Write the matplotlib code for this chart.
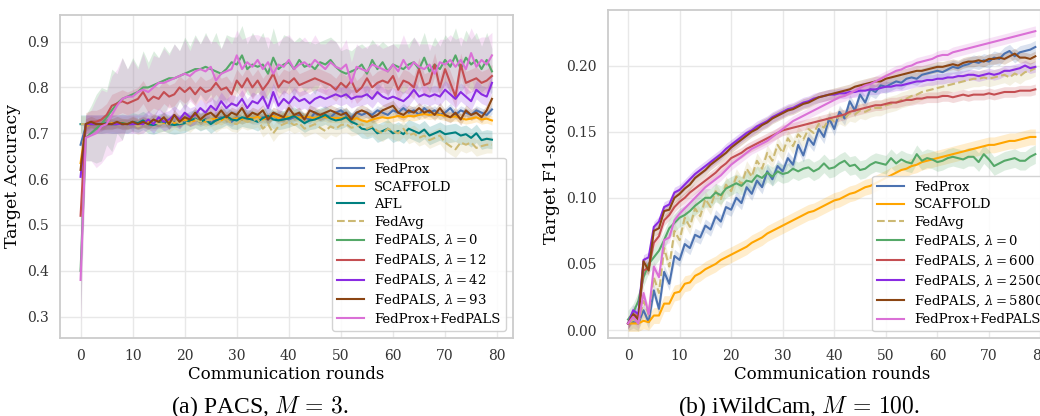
import numpy as np
import matplotlib
matplotlib.use("Agg")
import matplotlib.pyplot as plt
from matplotlib.ticker import FormatStrFormatter

plt.rcParams["font.family"] = ["DejaVu Serif"]
plt.rcParams["mathtext.fontset"] = "dejavuserif"

rounds = np.arange(80)

# ---------------- PACS (M = 3): target accuracy ----------------
pacs_fedprox = [0.675, 0.715, 0.72, 0.72, 0.715, 0.72, 0.72, 0.72, 0.72, 0.72,
                0.72, 0.72, 0.725, 0.72, 0.72, 0.72, 0.725, 0.72, 0.725, 0.72,
                0.73, 0.725, 0.73, 0.725, 0.73, 0.725, 0.73, 0.735, 0.73, 0.725,
                0.735, 0.73, 0.735, 0.73, 0.73, 0.735, 0.73, 0.74, 0.73, 0.735,
                0.73, 0.735, 0.74, 0.735, 0.73, 0.745, 0.735, 0.74, 0.735, 0.745,
                0.75, 0.74, 0.735, 0.745, 0.74, 0.745, 0.74, 0.75, 0.745, 0.74,
                0.75, 0.745, 0.755, 0.745, 0.75, 0.74, 0.755, 0.745, 0.75, 0.74,
                0.745, 0.755, 0.74, 0.75, 0.745, 0.74, 0.75, 0.745, 0.74, 0.752]
pacs_scaffold = [0.635, 0.715, 0.72, 0.72, 0.72, 0.72, 0.722, 0.72, 0.723, 0.72,
                 0.725, 0.72, 0.722, 0.725, 0.72, 0.725, 0.722, 0.728, 0.722, 0.725,
                 0.73, 0.725, 0.728, 0.73, 0.725, 0.73, 0.732, 0.728, 0.735, 0.73,
                 0.733, 0.73, 0.735, 0.732, 0.736, 0.73, 0.735, 0.738, 0.733, 0.736,
                 0.735, 0.738, 0.734, 0.736, 0.735, 0.733, 0.738, 0.735, 0.734, 0.733,
                 0.733, 0.735, 0.73, 0.733, 0.728, 0.725, 0.73, 0.733, 0.735, 0.733,
                 0.735, 0.738, 0.735, 0.738, 0.737, 0.74, 0.742, 0.74, 0.742, 0.74,
                 0.738, 0.735, 0.737, 0.733, 0.73, 0.732, 0.735, 0.73, 0.732, 0.728]
pacs_afl = [0.72, 0.72, 0.72, 0.72, 0.72, 0.722, 0.72, 0.72, 0.722, 0.72,
            0.725, 0.722, 0.728, 0.72, 0.718, 0.722, 0.725, 0.72, 0.718, 0.72,
            0.722, 0.728, 0.732, 0.725, 0.73, 0.72, 0.728, 0.732, 0.738, 0.73,
            0.728, 0.735, 0.732, 0.73, 0.725, 0.733, 0.738, 0.73, 0.728, 0.73,
            0.733, 0.738, 0.73, 0.722, 0.728, 0.73, 0.735, 0.74, 0.732, 0.728,
            0.73, 0.735, 0.725, 0.72, 0.71, 0.708, 0.712, 0.70, 0.705, 0.71,
            0.70, 0.705, 0.698, 0.71, 0.705, 0.70, 0.708, 0.695, 0.70, 0.705,
            0.698, 0.70, 0.702, 0.695, 0.698, 0.69, 0.70, 0.685, 0.688, 0.686]
pacs_fedavg = [0.72, 0.72, 0.722, 0.72, 0.718, 0.72, 0.722, 0.72, 0.718, 0.72,
               0.722, 0.715, 0.72, 0.722, 0.725, 0.72, 0.722, 0.72, 0.728, 0.722,
               0.725, 0.72, 0.73, 0.725, 0.728, 0.73, 0.72, 0.728, 0.73, 0.722,
               0.72, 0.73, 0.725, 0.728, 0.732, 0.71, 0.72, 0.70, 0.715, 0.72,
               0.725, 0.718, 0.722, 0.71, 0.715, 0.72, 0.712, 0.705, 0.715, 0.71,
               0.718, 0.72, 0.712, 0.715, 0.72, 0.71, 0.715, 0.705, 0.70, 0.71,
               0.705, 0.70, 0.71, 0.695, 0.70, 0.69, 0.695, 0.685, 0.69, 0.695,
               0.68, 0.672, 0.665, 0.68, 0.675, 0.68, 0.668, 0.672, 0.675, 0.675]
pacs_pals0 = [0.40, 0.69, 0.70, 0.71, 0.72, 0.735, 0.75, 0.765, 0.775, 0.78,
              0.785, 0.79, 0.80, 0.80, 0.805, 0.81, 0.815, 0.82, 0.82, 0.825,
              0.83, 0.835, 0.84, 0.84, 0.845, 0.84, 0.835, 0.83, 0.84, 0.855,
              0.85, 0.87, 0.84, 0.85, 0.845, 0.85, 0.83, 0.865, 0.84, 0.85,
              0.855, 0.84, 0.86, 0.845, 0.85, 0.84, 0.855, 0.85, 0.86, 0.845,
              0.835, 0.83, 0.835, 0.84, 0.85, 0.83, 0.86, 0.84, 0.855, 0.835,
              0.85, 0.845, 0.84, 0.85, 0.855, 0.84, 0.865, 0.835, 0.85, 0.84,
              0.86, 0.845, 0.87, 0.84, 0.865, 0.85, 0.86, 0.84, 0.86, 0.835]
pacs_pals12 = [0.52, 0.72, 0.725, 0.725, 0.73, 0.74, 0.76, 0.765, 0.77, 0.765,
               0.77, 0.775, 0.79, 0.77, 0.78, 0.775, 0.79, 0.78, 0.785, 0.80,
               0.79, 0.80, 0.785, 0.80, 0.79, 0.795, 0.81, 0.795, 0.80, 0.785,
               0.815, 0.80, 0.82, 0.80, 0.815, 0.795, 0.81, 0.83, 0.80, 0.815,
               0.81, 0.82, 0.805, 0.81, 0.815, 0.82, 0.815, 0.81, 0.805, 0.795,
               0.81, 0.80, 0.815, 0.79, 0.80, 0.82, 0.80, 0.81, 0.815, 0.81,
               0.825, 0.795, 0.815, 0.81, 0.80, 0.84, 0.805, 0.81, 0.85, 0.80,
               0.84, 0.81, 0.78, 0.85, 0.81, 0.815, 0.82, 0.81, 0.815, 0.825]
pacs_pals42 = [0.605, 0.72, 0.72, 0.72, 0.72, 0.72, 0.72, 0.72, 0.72, 0.72,
               0.72, 0.72, 0.72, 0.73, 0.72, 0.735, 0.725, 0.73, 0.74, 0.73,
               0.745, 0.735, 0.74, 0.755, 0.745, 0.76, 0.75, 0.77, 0.755, 0.765,
               0.76, 0.775, 0.755, 0.77, 0.765, 0.78, 0.755, 0.79, 0.76, 0.775,
               0.765, 0.78, 0.77, 0.775, 0.765, 0.775, 0.78, 0.775, 0.78, 0.785,
               0.78, 0.785, 0.775, 0.78, 0.78, 0.785, 0.775, 0.79, 0.78, 0.775,
               0.78, 0.775, 0.77, 0.78, 0.795, 0.78, 0.785, 0.78, 0.785, 0.78,
               0.795, 0.785, 0.775, 0.79, 0.78, 0.77, 0.795, 0.785, 0.78, 0.81]
pacs_pals93 = [0.62, 0.72, 0.725, 0.72, 0.72, 0.72, 0.72, 0.725, 0.72, 0.72,
               0.725, 0.72, 0.725, 0.72, 0.73, 0.725, 0.735, 0.72, 0.74, 0.725,
               0.735, 0.73, 0.745, 0.73, 0.74, 0.745, 0.735, 0.75, 0.735, 0.745,
               0.74, 0.755, 0.735, 0.745, 0.74, 0.75, 0.73, 0.745, 0.74, 0.735,
               0.755, 0.74, 0.745, 0.73, 0.75, 0.745, 0.74, 0.745, 0.75, 0.745,
               0.74, 0.745, 0.73, 0.745, 0.75, 0.745, 0.735, 0.74, 0.75, 0.755,
               0.76, 0.745, 0.74, 0.75, 0.745, 0.755, 0.745, 0.75, 0.74, 0.755,
               0.74, 0.735, 0.745, 0.73, 0.75, 0.74, 0.745, 0.735, 0.75, 0.775]
pacs_prox_pals = [0.38, 0.69, 0.695, 0.70, 0.715, 0.72, 0.74, 0.76, 0.775, 0.78,
                  0.78, 0.79, 0.795, 0.79, 0.80, 0.81, 0.81, 0.815, 0.82, 0.825,
                  0.83, 0.825, 0.835, 0.84, 0.835, 0.845, 0.815, 0.83, 0.835, 0.84,
                  0.87, 0.84, 0.855, 0.845, 0.86, 0.84, 0.855, 0.83, 0.85, 0.845,
                  0.86, 0.84, 0.85, 0.855, 0.845, 0.86, 0.85, 0.84, 0.855, 0.845,
                  0.84, 0.85, 0.81, 0.845, 0.84, 0.835, 0.85, 0.845, 0.84, 0.835,
                  0.85, 0.835, 0.86, 0.84, 0.855, 0.845, 0.84, 0.85, 0.83, 0.855,
                  0.85, 0.86, 0.845, 0.86, 0.84, 0.875, 0.845, 0.86, 0.85, 0.87]

# per-round standard deviation of the two high-variance runs
pacs_std_pals0 = [0.09, 0.05, 0.06, 0.075, 0.08, 0.06, 0.09, 0.065, 0.09, 0.06,
                  0.08, 0.055, 0.08, 0.055, 0.075, 0.055, 0.075, 0.055, 0.075, 0.055,
                  0.08, 0.055, 0.075, 0.055, 0.075, 0.055, 0.085, 0.055, 0.075, 0.055,
                  0.06, 0.065, 0.055, 0.07, 0.055, 0.07, 0.055, 0.065, 0.05, 0.065,
                  0.055, 0.06, 0.05, 0.055, 0.05, 0.055, 0.045, 0.055, 0.05, 0.055,
                  0.045, 0.055, 0.045, 0.05, 0.045, 0.055, 0.045, 0.05, 0.045, 0.055,
                  0.045, 0.05, 0.055, 0.045, 0.055, 0.05, 0.055, 0.045, 0.06, 0.05,
                  0.055, 0.055, 0.06, 0.05, 0.06, 0.055, 0.06, 0.05, 0.06, 0.05]
pacs_std_prox_pals = [0.095, 0.05, 0.055, 0.075, 0.08, 0.07, 0.085, 0.08, 0.09, 0.06,
                      0.08, 0.05, 0.08, 0.05, 0.07, 0.055, 0.075, 0.055, 0.075, 0.055,
                      0.075, 0.055, 0.075, 0.055, 0.08, 0.055, 0.085, 0.055, 0.075, 0.055,
                      0.055, 0.065, 0.055, 0.07, 0.055, 0.07, 0.055, 0.065, 0.05, 0.065,
                      0.055, 0.06, 0.05, 0.055, 0.05, 0.055, 0.045, 0.055, 0.05, 0.055,
                      0.045, 0.055, 0.045, 0.05, 0.045, 0.055, 0.045, 0.05, 0.045, 0.055,
                      0.045, 0.05, 0.055, 0.045, 0.055, 0.05, 0.055, 0.045, 0.06, 0.05,
                      0.055, 0.055, 0.06, 0.05, 0.06, 0.055, 0.06, 0.05, 0.06, 0.05]

# ---------------- iWildCam (M = 100): target F1-score ----------------
wild_fedprox = [0.005, 0.006, 0.005, 0.015, 0.006, 0.03, 0.016, 0.044, 0.035, 0.056,
                0.053, 0.065, 0.062, 0.072, 0.07, 0.079, 0.076, 0.086, 0.082, 0.093,
                0.091, 0.10, 0.096, 0.108, 0.103, 0.113, 0.108, 0.12, 0.114, 0.124,
                0.12, 0.13, 0.125, 0.14, 0.132, 0.145, 0.14, 0.152, 0.146, 0.16,
                0.152, 0.165, 0.16, 0.173, 0.166, 0.178, 0.172, 0.182, 0.18, 0.185,
                0.184, 0.186, 0.188, 0.187, 0.19, 0.191, 0.19, 0.193, 0.194, 0.195,
                0.196, 0.195, 0.197, 0.199, 0.198, 0.20, 0.201, 0.203, 0.202, 0.204,
                0.203, 0.206, 0.205, 0.209, 0.211, 0.207, 0.21, 0.211, 0.212, 0.214]
wild_scaffold = [0.005, 0.005, 0.005, 0.007, 0.006, 0.011, 0.011, 0.02, 0.02, 0.028,
                 0.029, 0.035, 0.036, 0.041, 0.043, 0.046, 0.048, 0.05, 0.053, 0.055,
                 0.057, 0.059, 0.061, 0.063, 0.066, 0.068, 0.07, 0.073, 0.075, 0.077,
                 0.079, 0.081, 0.083, 0.085, 0.087, 0.089, 0.09, 0.092, 0.094, 0.096,
                 0.098, 0.099, 0.101, 0.103, 0.104, 0.106, 0.108, 0.109, 0.111, 0.113,
                 0.115, 0.117, 0.119, 0.121, 0.122, 0.124, 0.125, 0.127, 0.128, 0.129,
                 0.13, 0.131, 0.132, 0.133, 0.134, 0.135, 0.136, 0.137, 0.138, 0.139,
                 0.14, 0.14, 0.141, 0.142, 0.143, 0.143, 0.144, 0.145, 0.146, 0.146]
wild_fedavg = [0.005, 0.008, 0.005, 0.022, 0.012, 0.04, 0.028, 0.062, 0.048, 0.075,
               0.068, 0.085, 0.078, 0.092, 0.086, 0.099, 0.093, 0.105, 0.099, 0.11,
               0.105, 0.116, 0.11, 0.122, 0.116, 0.128, 0.122, 0.134, 0.128, 0.14,
               0.134, 0.145, 0.139, 0.148, 0.144, 0.152, 0.149, 0.156, 0.153, 0.16,
               0.158, 0.162, 0.16, 0.164, 0.163, 0.166, 0.165, 0.167, 0.168, 0.168,
               0.17, 0.171, 0.172, 0.174, 0.175, 0.177, 0.178, 0.18, 0.181, 0.182,
               0.183, 0.184, 0.185, 0.186, 0.187, 0.188, 0.189, 0.19, 0.19, 0.191,
               0.19, 0.191, 0.192, 0.193, 0.191, 0.194, 0.192, 0.195, 0.196, 0.198]
wild_pals0 = [0.008, 0.013, 0.022, 0.04, 0.05, 0.055, 0.06, 0.068, 0.077, 0.081,
              0.085, 0.087, 0.09, 0.094, 0.097, 0.10, 0.10, 0.104, 0.102, 0.107,
              0.109, 0.111, 0.109, 0.113, 0.112, 0.117, 0.115, 0.119, 0.116, 0.12,
              0.118, 0.119, 0.122, 0.12, 0.122, 0.123, 0.12, 0.122, 0.126, 0.122,
              0.123, 0.126, 0.128, 0.124, 0.125, 0.121, 0.122, 0.125, 0.127, 0.126,
              0.125, 0.13, 0.126, 0.129, 0.127, 0.126, 0.133, 0.128, 0.13, 0.129,
              0.127, 0.128, 0.13, 0.131, 0.13, 0.129, 0.131, 0.131, 0.127, 0.133,
              0.129, 0.124, 0.126, 0.128, 0.129, 0.13, 0.128, 0.128, 0.131, 0.133]
wild_pals600 = [0.005, 0.012, 0.01, 0.045, 0.047, 0.066, 0.071, 0.083, 0.087, 0.093,
                0.097, 0.10, 0.104, 0.107, 0.11, 0.113, 0.116, 0.119, 0.123, 0.126,
                0.13, 0.132, 0.134, 0.137, 0.139, 0.141, 0.143, 0.145, 0.147, 0.149,
                0.151, 0.152, 0.153, 0.154, 0.155, 0.156, 0.157, 0.158, 0.159, 0.16,
                0.161, 0.162, 0.163, 0.165, 0.166, 0.167, 0.168, 0.169, 0.17, 0.17,
                0.171, 0.172, 0.172, 0.173, 0.174, 0.174, 0.175, 0.175, 0.176, 0.176,
                0.176, 0.177, 0.177, 0.176, 0.177, 0.178, 0.177, 0.178, 0.178, 0.178,
                0.179, 0.178, 0.179, 0.18, 0.18, 0.18, 0.181, 0.181, 0.181, 0.182]
wild_pals2500 = [0.005, 0.015, 0.012, 0.053, 0.055, 0.078, 0.082, 0.093, 0.095, 0.104,
                 0.106, 0.11, 0.114, 0.118, 0.121, 0.124, 0.127, 0.13, 0.133, 0.137,
                 0.14, 0.143, 0.146, 0.149, 0.151, 0.154, 0.156, 0.158, 0.161, 0.163,
                 0.165, 0.167, 0.168, 0.17, 0.172, 0.173, 0.175, 0.176, 0.177, 0.178,
                 0.178, 0.179, 0.179, 0.18, 0.18, 0.181, 0.181, 0.182, 0.182, 0.183,
                 0.184, 0.184, 0.185, 0.185, 0.186, 0.187, 0.188, 0.188, 0.189, 0.189,
                 0.19, 0.19, 0.191, 0.191, 0.192, 0.192, 0.193, 0.193, 0.192, 0.193,
                 0.194, 0.193, 0.194, 0.196, 0.196, 0.197, 0.198, 0.20, 0.198, 0.199]
wild_pals5800 = [0.005, 0.012, 0.008, 0.052, 0.045, 0.075, 0.077, 0.09, 0.091, 0.10,
                 0.103, 0.107, 0.11, 0.115, 0.118, 0.121, 0.125, 0.128, 0.131, 0.134,
                 0.138, 0.141, 0.144, 0.147, 0.15, 0.152, 0.155, 0.157, 0.16, 0.162,
                 0.164, 0.166, 0.167, 0.169, 0.171, 0.172, 0.174, 0.176, 0.177, 0.178,
                 0.179, 0.18, 0.181, 0.182, 0.184, 0.185, 0.186, 0.187, 0.188, 0.188,
                 0.19, 0.191, 0.192, 0.193, 0.194, 0.195, 0.196, 0.196, 0.197, 0.198,
                 0.199, 0.199, 0.20, 0.201, 0.20, 0.202, 0.203, 0.203, 0.204, 0.203,
                 0.205, 0.205, 0.206, 0.205, 0.207, 0.209, 0.206, 0.206, 0.205, 0.207]
wild_prox_pals = [0.005, 0.01, 0.005, 0.028, 0.012, 0.048, 0.04, 0.068, 0.07, 0.083,
                  0.088, 0.092, 0.096, 0.10, 0.104, 0.108, 0.111, 0.114, 0.117, 0.121,
                  0.125, 0.128, 0.131, 0.134, 0.137, 0.139, 0.141, 0.143, 0.146, 0.149,
                  0.152, 0.155, 0.158, 0.16, 0.162, 0.164, 0.166, 0.168, 0.17, 0.172,
                  0.174, 0.176, 0.177, 0.179, 0.181, 0.183, 0.185, 0.186, 0.188, 0.19,
                  0.192, 0.194, 0.196, 0.197, 0.199, 0.20, 0.202, 0.203, 0.204, 0.205,
                  0.207, 0.208, 0.208, 0.21, 0.211, 0.212, 0.213, 0.214, 0.215, 0.216,
                  0.217, 0.218, 0.219, 0.22, 0.221, 0.222, 0.223, 0.224, 0.225, 0.226]

# colours and line styles per method
C_PROX, C_SCAF, C_AFL, C_AVG = "#4c72b0", "orange", "teal", "#ccb974"
C_P0, C_P1, C_P2, C_P3, C_PP = "#55a868", "#c44e52", "blueviolet", "saddlebrown", "orchid"

pacs_runs = [
    ("FedProx", pacs_fedprox, 0.010, C_PROX, "-"),
    ("SCAFFOLD", pacs_scaffold, 0.010, C_SCAF, "-"),
    ("AFL", pacs_afl, 0.020, C_AFL, "-"),
    ("FedAvg", pacs_fedavg, 0.018, C_AVG, "--"),
    (r"FedPALS, $\lambda = 0$", pacs_pals0, pacs_std_pals0, C_P0, "-"),
    (r"FedPALS, $\lambda = 12$", pacs_pals12, 0.025, C_P1, "-"),
    (r"FedPALS, $\lambda = 42$", pacs_pals42, 0.020, C_P2, "-"),
    (r"FedPALS, $\lambda = 93$", pacs_pals93, 0.012, C_P3, "-"),
    ("FedProx+FedPALS", pacs_prox_pals, pacs_std_prox_pals, C_PP, "-"),
]
wild_runs = [
    ("FedProx", wild_fedprox, 0.005, C_PROX, "-"),
    ("SCAFFOLD", wild_scaffold, 0.006, C_SCAF, "-"),
    ("FedAvg", wild_fedavg, 0.006, C_AVG, "--"),
    (r"FedPALS, $\lambda = 0$", wild_pals0, 0.007, C_P0, "-"),
    (r"FedPALS, $\lambda = 600$", wild_pals600, 0.004, C_P1, "-"),
    (r"FedPALS, $\lambda = 2500$", wild_pals2500, 0.004, C_P2, "-"),
    (r"FedPALS, $\lambda = 5800$", wild_pals5800, 0.004, C_P3, "-"),
    ("FedProx+FedPALS", wild_prox_pals, 0.004, C_PP, "-"),
]

fig = plt.figure(figsize=(10.4, 4.16), dpi=100)
ax1 = fig.add_axes([0.0577, 0.1882, 0.4351, 0.7757])
ax2 = fig.add_axes([0.5843, 0.1875, 0.4308, 0.7885])


def draw(ax, runs):
    for label, mean, std, color, ls in runs:
        m = np.asarray(mean)
        s = np.asarray(std) if np.ndim(std) else np.full_like(m, std)
        ax.fill_between(rounds, m - s, m + s, color=color, alpha=0.2, lw=0)
        ax.plot(rounds, m, color=color, ls=ls, lw=1.5, label=label)


def style(ax, ylabel):
    ax.set_facecolor("white")
    ax.grid(True, color="#e8e8e8", lw=1.0)
    ax.set_axisbelow(True)
    for sp in ax.spines.values():
        sp.set_color("#cccccc")
        sp.set_linewidth(1.3)
    ax.tick_params(length=0, pad=8, labelsize=10, colors="#333333")
    ax.set_xticks(np.arange(0, 81, 10))
    ax.set_xlabel("Communication rounds", fontsize=12, labelpad=2)
    ax.set_ylabel(ylabel, fontsize=12.5, labelpad=4)
    ax.set_xlim(-3.95, 82.95)


def legend(ax):
    ax.legend(loc="lower right", fontsize=9.5, frameon=True, edgecolor="#cccccc",
              framealpha=0.85, borderaxespad=0.5, labelspacing=0.34,
              handlelength=2.0, handletextpad=0.8)


draw(ax1, pacs_runs)
style(ax1, "Target Accuracy")
ax1.set_ylim(0.254, 0.958)
ax1.set_yticks([0.3, 0.4, 0.5, 0.6, 0.7, 0.8, 0.9])
legend(ax1)

draw(ax2, wild_runs)
style(ax2, "Target F1-score")
ax2.set_ylim(-0.006, 0.242)
ax2.set_yticks([0.0, 0.05, 0.10, 0.15, 0.20])
ax2.yaxis.set_major_formatter(FormatStrFormatter("%.2f"))
legend(ax2)

fig.text(0.250, 0.007, r"(a) PACS, $M\,=\,3$.", ha="center", va="baseline",
         fontsize=17, family="Liberation Serif", math_fontfamily="cm")
fig.text(0.768, 0.007, r"(b) iWildCam, $M\,=\,100$.", ha="center", va="baseline",
         fontsize=17, family="Liberation Serif", math_fontfamily="cm")

fig.savefig("out.png", dpi=100)
